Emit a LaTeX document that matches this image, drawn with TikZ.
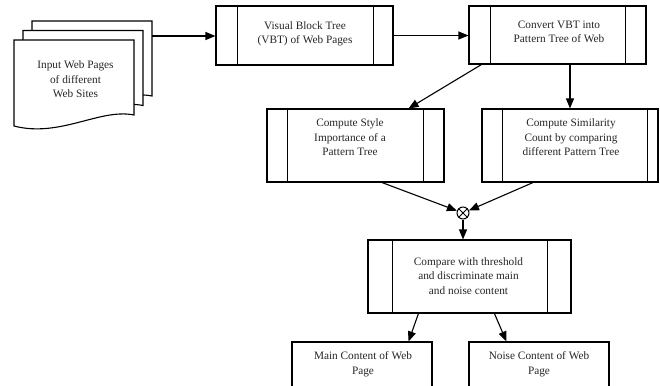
\documentclass[tikz,border=0pt]{standalone}
\usepackage{fontspec}
\setmainfont{Liberation Serif}
\usetikzlibrary{arrows.meta,calc}

% vertical side bars of a predefined-process box: #1 node, #2 left inset, #3 right inset
\newcommand\procbars[3]{%
  \draw[bar] ($(#1.north west)+(#2,0)$) -- ($(#1.south west)+(#2,0)$);
  \draw[bar] ($(#1.north east)+(-#3,0)$) -- ($(#1.south east)+(-#3,0)$);
}

\begin{document}
\begin{tikzpicture}[x=1pt,y=-1pt,
  every node/.style={font=\fontsize{11.3}{14.6}\selectfont, text=black!85},
  proc/.style={draw, line width=1.1pt, fill=white, inner sep=0pt},
  bar/.style={line width=1.1pt},
  txt/.style={align=center, inner sep=0pt},
  arr/.style={line width=1.1pt, -{Triangle[length=10pt,width=8pt]}},
  page/.style={draw, line width=1.1pt, fill=white}
]
\useasboundingbox (0,0) rectangle (660,385);

% stacked web pages (document shape), back to front
\draw[page] (32,21) -- (152,21) -- (152,96)
  .. controls (118,89) and (78,119) .. (32,107) -- cycle;
\draw[page] (23,30.5) -- (143,30.5) -- (143,105.5)
  .. controls (109,98.5) and (69,128.5) .. (23,116.5) -- cycle;
\draw[page] (14,40) -- (134,40) -- (134,115)
  .. controls (100,108) and (60,138) .. (14,126) -- cycle;
\node[txt] (tin) at (75.5,79.5) {Input Web Pages\\of different\\Web Sites};
\coordinate (docout) at (152,36);

% process boxes
\node[proc, minimum width=177pt, minimum height=59pt] (b1) at (304.5,35.5) {};
\procbars{b1}{22}{20}
\node[txt] (t1) at (305,34) {Visual Block Tree\\(VBT) of Web Pages};

\node[proc, minimum width=177pt, minimum height=58pt] (b2) at (557.5,35) {};
\procbars{b2}{22}{21}
\node[txt] (t2) at (559,32) {Convert VBT into\\Pattern Tree of Web};

\node[proc, minimum width=177pt, minimum height=73pt] (b3) at (355.5,145.5) {};
\procbars{b3}{21}{21}
\node[txt] (t3) at (350,137.5) {Compute Style\\Importance of a\\Pattern Tree};

\node[proc, minimum width=176pt, minimum height=73pt] (b4) at (570,145.5) {};
\procbars{b4}{21}{11}
\node[txt] (t4) at (571,137.5) {Compute Similarity\\Count by comparing\\different Pattern Tree};

\node[proc, minimum width=203pt, minimum height=73pt] (b5) at (469.5,276.5) {};
\procbars{b5}{25}{24}
\node[txt] (t5) at (468.5,276) {Compare with threshold\\and discriminate main\\and noise content};

\node[proc, minimum width=140pt, minimum height=50pt] (b6) at (362,367) {};
\node[txt] (t6) at (363,364.5) {Main Content of Web\\Page};

\node[proc, minimum width=140pt, minimum height=50pt] (b7) at (539,367) {};
\node[txt] (t7) at (539,364.5) {Noise Content of Web\\Page};

% summing junction
\node[draw, circle, line width=1pt, minimum size=12pt, inner sep=0pt, fill=white] (j) at (463,213) {};
\draw[line width=1pt] (j.north east) -- (j.south west);
\draw[line width=1pt] (j.north west) -- (j.south east);

% connectors
\draw[arr] (docout) -- (docout -| b1.west);
\draw[arr] (b1.east) -- (b1.east -| b2.west);
\draw[arr] ($(b2.south west)+(13,0)$) -- ($(b3.north east)+(-36,0)$);
\draw[arr] (b4.north |- b2.south) -- (b4.north);
\draw[arr] ($(b3.south)+(26.5,0)$) -- (j);
\draw[arr] ($(b4.south)+(-37,0)$) -- (j);
\draw[arr] (j.south) -- (j.south |- b5.north);
\draw[arr] ($(b5.south west)+(51,0)$) -- ($(b6.north east)+(-24,0)$);
\draw[arr] ($(b5.south west)+(127,0)$) -- ($(b7.north west)+(38,0)$);
\end{tikzpicture}
\end{document}
